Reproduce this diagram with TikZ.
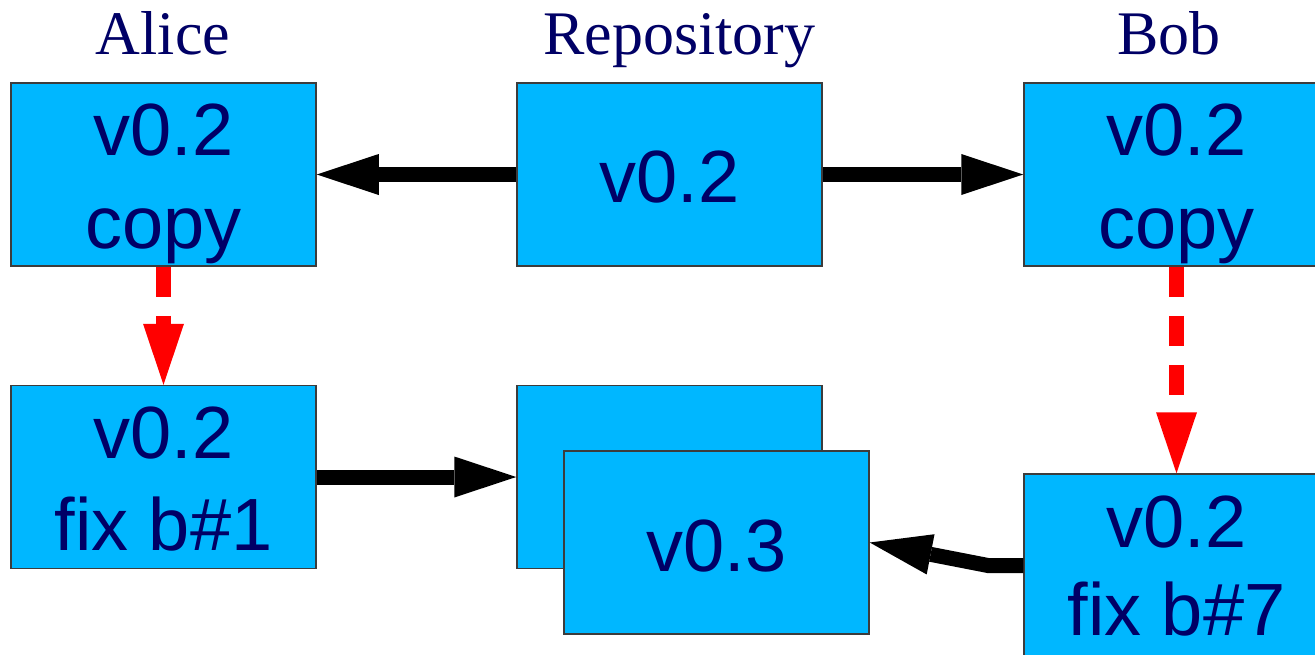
\documentclass[tikz,border=0pt]{standalone}
\usepackage{fontspec}
\setmainfont{Liberation Serif}
\newfontfamily\boxfont{Liberation Sans}
\usetikzlibrary{arrows.meta}
\definecolor{boxfill}{RGB}{0,183,255}
\definecolor{navy}{RGB}{0,0,102}
\definecolor{edge}{RGB}{60,60,60}
\tikzset{
  box/.style={draw=edge, line width=1.5pt, fill=boxfill, minimum width=305pt, minimum height=183pt, inner sep=0pt},
  btxt/.style={anchor=base, inner sep=0pt, text=navy, font=\boxfont\fontsize{74}{90}\selectfont},
  title/.style={anchor=base, inner sep=0pt, text=navy, font=\fontsize{62}{70}\selectfont},
  blk/.style={draw=black, line width=15pt, -{Triangle[length=62pt, width=41pt, line width=0pt]}},
  reddash/.style={draw=red, line width=15pt, dash pattern=on 30pt off 19pt, -{Triangle[length=61pt, width=41pt, line width=0pt]}}
}
\begin{document}
\begin{tikzpicture}[x=1pt,y=-1pt]
\clip (0,0) rectangle (1315,654);
\fill[white] (0,0) rectangle (1315,654);
% titles
\node[title] (tAlice) at (163,54) {Alice};
\node[title] (tRepo) at (679.5,54) {Repository};
\node[title] (tBob) at (1169,54) {Bob};
% boxes
\node[box] (aliceTop) at (163.5,174.5) {};
\node[box] (repoTop) at (669.5,174.5) {};
\node[box] (bobTop) at (1176.5,174.5) {};
\node[box] (aliceBot) at (163.5,477) {};
\node[box] (repoBack) at (669.5,477) {};
\node[btxt] (repoBackTxt) at (669.5,503) {v0.2};
\node[box] (repoFront) at (716.5,542.5) {};
\node[box] (bobBot) at (1176.5,565.5) {};
% box texts
\node[btxt] (aT1) at (163.5,155) {v0.2};
\node[btxt] (aT2) at (163.5,248) {copy};
\node[btxt] (rT1) at (669.5,202) {v0.2};
\node[btxt] (bT1) at (1176.5,155) {v0.2};
\node[btxt] (bT2) at (1176.5,248) {copy};
\node[btxt] (aB1) at (163.5,458) {v0.2};
\node[btxt] (aB2) at (163.5,550) {fix b\#1};
\node[btxt] (rF1) at (716.5,571) {v0.3};
\node[btxt] (bB1) at (1176.5,547) {v0.2};
\node[btxt] (bB2) at (1176.5,635) {fix b\#7};
% connectors
\draw[blk] (repoTop.west) -- (aliceTop.east);
\draw[blk] (repoTop.east) -- (bobTop.west);
\draw[blk] (aliceBot.east) -- (repoBack.west);
\coordinate (elbow) at (988,565.5);
\draw[blk] (bobBot.west) -- (elbow) -- (repoFront.east);
\draw[reddash] (aliceTop.south) -- (aliceBot.north);
\draw[reddash] (bobTop.south) -- (bobBot.north);
\end{tikzpicture}
\end{document}
